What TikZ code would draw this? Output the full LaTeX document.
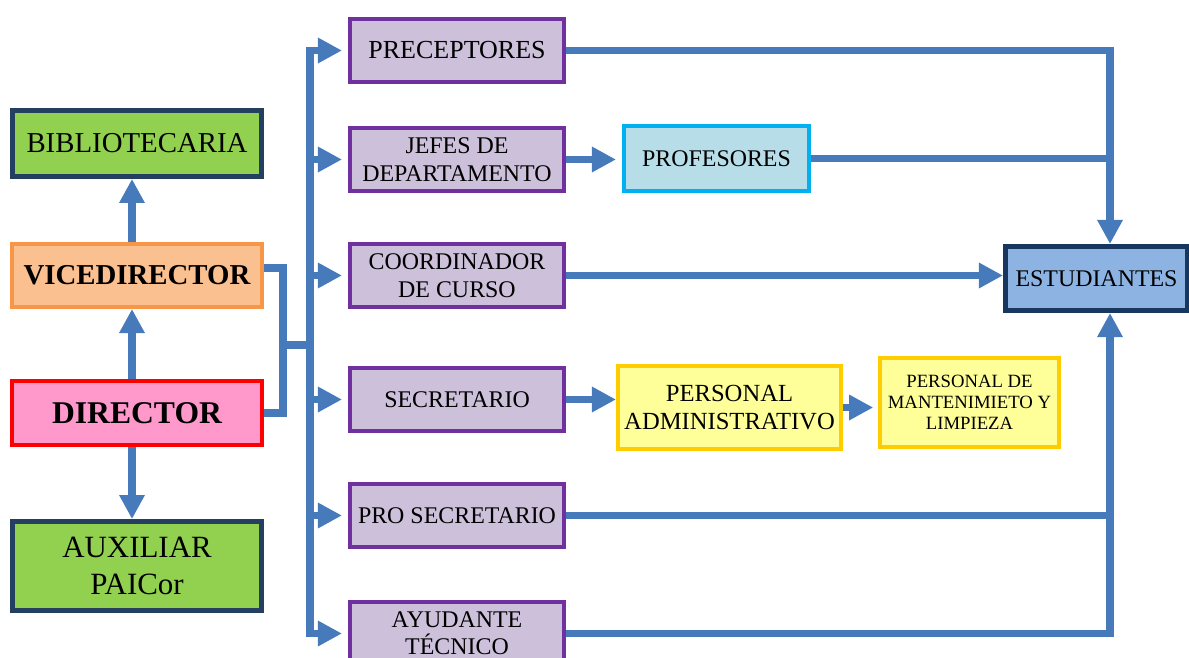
\documentclass[tikz,border=0pt]{standalone}
\usepackage{xcolor}
\usepackage{fontspec}
\setmainfont{Liberation Serif}
\usepackage{tikz}
\usetikzlibrary{positioning}
\usetikzlibrary{arrows.meta, calc}

\definecolor{linkblue}{RGB}{71,122,187}
\definecolor{borderpurple}{HTML}{7030A0}
\definecolor{filllilac}{HTML}{CCC0DA}
\definecolor{fillgreen}{HTML}{92D050}
\definecolor{bordernavy}{HTML}{243F60}
\definecolor{borderorange}{HTML}{F79646}
\definecolor{fillpeach}{HTML}{FAC090}
\definecolor{fillpink}{HTML}{FF99CC}
\definecolor{bordercyan}{HTML}{00B0F0}
\definecolor{fillcyan}{HTML}{B7DEE8}
\definecolor{fillsky}{HTML}{8DB3E2}
\definecolor{borderdeep}{HTML}{17375E}
\definecolor{fillyellow}{HTML}{FFFF99}
\definecolor{bordergold}{HTML}{FFCC00}

\tikzset{
    box/.style={draw, line width=0.1cm, align=center, inner sep=0pt, text=black},
    purplebox/.style={box, draw=borderpurple, fill=filllilac,
        minimum width=5.35cm, minimum height=1.575cm,
        font=\fontsize{17}{19.5}\selectfont},
    greenbox/.style={box, line width=0.12cm, draw=bordernavy, fill=fillgreen,
        minimum width=6.225cm},
    yellowbox/.style={box, draw=bordergold, fill=fillyellow},
    conn/.style={draw=linkblue, line width=0.18cm},
    arr/.style={conn, -{Triangle[length=0.6cm, width=0.6cm]}}
}

\begin{document}
\begin{tikzpicture}[x=0.025cm, y=-0.025cm]
        \useasboundingbox (0,0) rectangle (1189,657);

        \begin{scope}
            \node[greenbox, minimum height=1.65cm, font=\fontsize{20.5}{23}\selectfont]
                (bib) at (137,143.5) {BIBLIOTECARIA};
            \node[box, draw=borderorange, fill=fillpeach, minimum width=6.25cm, minimum height=1.575cm,
                font=\fontsize{20.5}{23}\selectfont\bfseries]
                (vice) at (137,275.5) {VICEDIRECTOR};
            \node[box, draw=red, fill=fillpink, minimum width=6.25cm, minimum height=1.6cm,
                font=\fontsize{22.5}{25}\selectfont\bfseries]
                (dir) at (137,413) {DIRECTOR};
            \node[greenbox, minimum height=2.225cm, font=\fontsize{22}{26.3}\selectfont]
                (aux) at (137,566) {AUXILIAR\\PAICor};
        \end{scope}

        \begin{scope}
            \node[purplebox, font=\fontsize{18.5}{21}\selectfont] (prec) at (457,50.5) {PRECEPTORES};
            \node[purplebox] (jefes) at (457,159.5) {JEFES DE\\DEPARTAMENTO};
            \node[purplebox] (coord) at (457,275.5) {COORDINADOR\\DE CURSO};
            \node[purplebox] (secr) at (457,399.5) {SECRETARIO};
            \node[purplebox] (prosec) at (457,515.5) {PRO SECRETARIO};
            \node[purplebox] (ayud) at (457,633.5) {AYUDANTE\\TÉCNICO};
        \end{scope}

        \begin{scope}
            \node[box, draw=bordercyan, fill=fillcyan, minimum width=4.625cm, minimum height=1.625cm,
                font=\fontsize{17}{19.5}\selectfont]
                (prof) at (716.5,158.5) {PROFESORES};
            \node[yellowbox, minimum width=5.575cm, minimum height=2.075cm,
                font=\fontsize{17.5}{20}\selectfont]
                (padm) at (729.5,407.5) {PERSONAL\\ADMINISTRATIVO};
            \node[yellowbox, minimum width=4.475cm, minimum height=2.225cm,
                font=\fontsize{13.3}{15}\selectfont]
                (pman) at (969.5,402.5) {PERSONAL DE\\MANTENIMIETO Y\\LIMPIEZA};
            \node[box, line width=0.125cm, draw=borderdeep, fill=fillsky, minimum width=4.55cm, minimum height=1.6cm,
                font=\fontsize{17}{19.5}\selectfont]
                (est) at (1096.5,278.5) {ESTUDIANTES};
        \end{scope}

        \coordinate (bustop) at (310,50.5);
        \coordinate (busbot) at (310,633.5);
        \coordinate (brk) at (283,345);
        \coordinate (rbus) at (1110,50.5);

        \draw[arr] ([xshift=-0.125cm]vice.north) -- ([xshift=-0.125cm]bib.south);
        \draw[arr] ([xshift=-0.125cm]dir.north) -- ([xshift=-0.125cm]vice.south);
        \draw[arr] ([xshift=-0.125cm]dir.south) -- ([xshift=-0.125cm]aux.north);

        \draw[conn] ([yshift=0.19cm]vice.east) -| (brk) |- (dir.east);
        \draw[conn] (brk) -- (brk -| bustop);
        \draw[conn, line cap=rect] (bustop) -- (busbot);

        \draw[arr, shorten >=0.15cm] (bustop |- prec.west) -- (prec.west);
        \draw[arr, shorten >=0.15cm] (bustop |- jefes.west) -- (jefes.west);
        \draw[arr, shorten >=0.15cm] (bustop |- coord.west) -- (coord.west);
        \draw[arr, shorten >=0.15cm] (bustop |- secr.west) -- (secr.west);
        \draw[arr, shorten >=0.15cm] (bustop |- prosec.west) -- (prosec.west);
        \draw[arr, shorten >=0.15cm] (bustop |- ayud.west) -- (ayud.west);

        \draw[arr, shorten >=0.15cm] (jefes.east) -- (prof.west |- jefes.east);
        \draw[arr] (secr.east) -- (padm.west |- secr.east);
        \draw[arr, shorten >=0.12cm] (padm.east) -- (pman.west |- padm.east);

        \draw[arr] (prec.east) -| (rbus |- est.north);
        \draw[conn] (prof.east) -- (rbus |- prof.east);
        \draw[arr] (coord.east) -- (est.west |- coord.east);
        \draw[conn] (prosec.east) -- (rbus |- prosec.east);
        \draw[arr] (ayud.east) -| (rbus |- est.south);
    \end{tikzpicture}
\end{document}
